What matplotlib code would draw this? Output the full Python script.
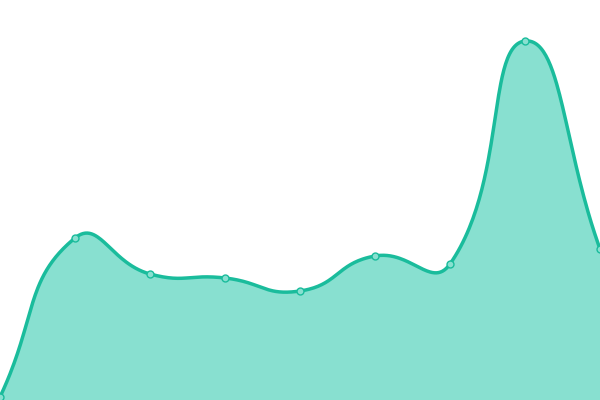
import numpy as np
import matplotlib
matplotlib.use("Agg")
import matplotlib.pyplot as plt

categories = ["A", "B", "C", "D", "E", "F", "G", "H", "I"]
values = [3, 162, 126, 122, 109, 144, 136, 359, 151]

LINE = "#1abc9c"
FILL = "#88e0d0"

fig = plt.figure(figsize=(6, 4), dpi=100)
ax = fig.add_axes([0, 0, 1, 1])
ax.set_xlim(0, 600)
ax.set_ylim(0, 400)
ax.axis("off")

n = len(values)
xs = np.array([i * 600 / (n - 1) for i in range(n)], dtype=float)
ys = np.array(values, dtype=float)

smooth = 0.5
cps = []
for i in range(n):
    px, py = xs[max(i - 1, 0)], ys[max(i - 1, 0)]
    nx, ny = xs[min(i + 1, n - 1)], ys[min(i + 1, n - 1)]
    vx, vy = nx - px, ny - py
    d0 = np.hypot(xs[i] - px, ys[i] - py)
    d1 = np.hypot(nx - xs[i], ny - ys[i])
    s = d0 + d1
    r0 = d0 / s if s else 0
    r1 = d1 / s if s else 0
    c_in = (xs[i] - vx * smooth * r0, ys[i] - vy * smooth * r0)
    c_out = (xs[i] + vx * smooth * r1, ys[i] + vy * smooth * r1)
    cps.append((c_in, c_out))

t = np.linspace(0, 1, 60)
cx, cy = [], []
for i in range(n - 1):
    p0 = np.array([xs[i], ys[i]])
    p1 = np.array(cps[i][1])
    p2 = np.array(cps[i + 1][0])
    p3 = np.array([xs[i + 1], ys[i + 1]])
    pts = ((1 - t) ** 3)[:, None] * p0 + (3 * (1 - t) ** 2 * t)[:, None] * p1 \
        + (3 * (1 - t) * t ** 2)[:, None] * p2 + (t ** 3)[:, None] * p3
    cx.extend(pts[:, 0])
    cy.extend(pts[:, 1])

ax.fill_between(cx, cy, 0, color=FILL, linewidth=0)
ax.plot(cx, cy, color=LINE, linewidth=2.5, solid_capstyle="round")
ax.plot(xs, ys, "o", markersize=5, markerfacecolor=FILL, markeredgecolor=LINE,
        markeredgewidth=1, clip_on=False)

fig.savefig("out.png", dpi=100)
